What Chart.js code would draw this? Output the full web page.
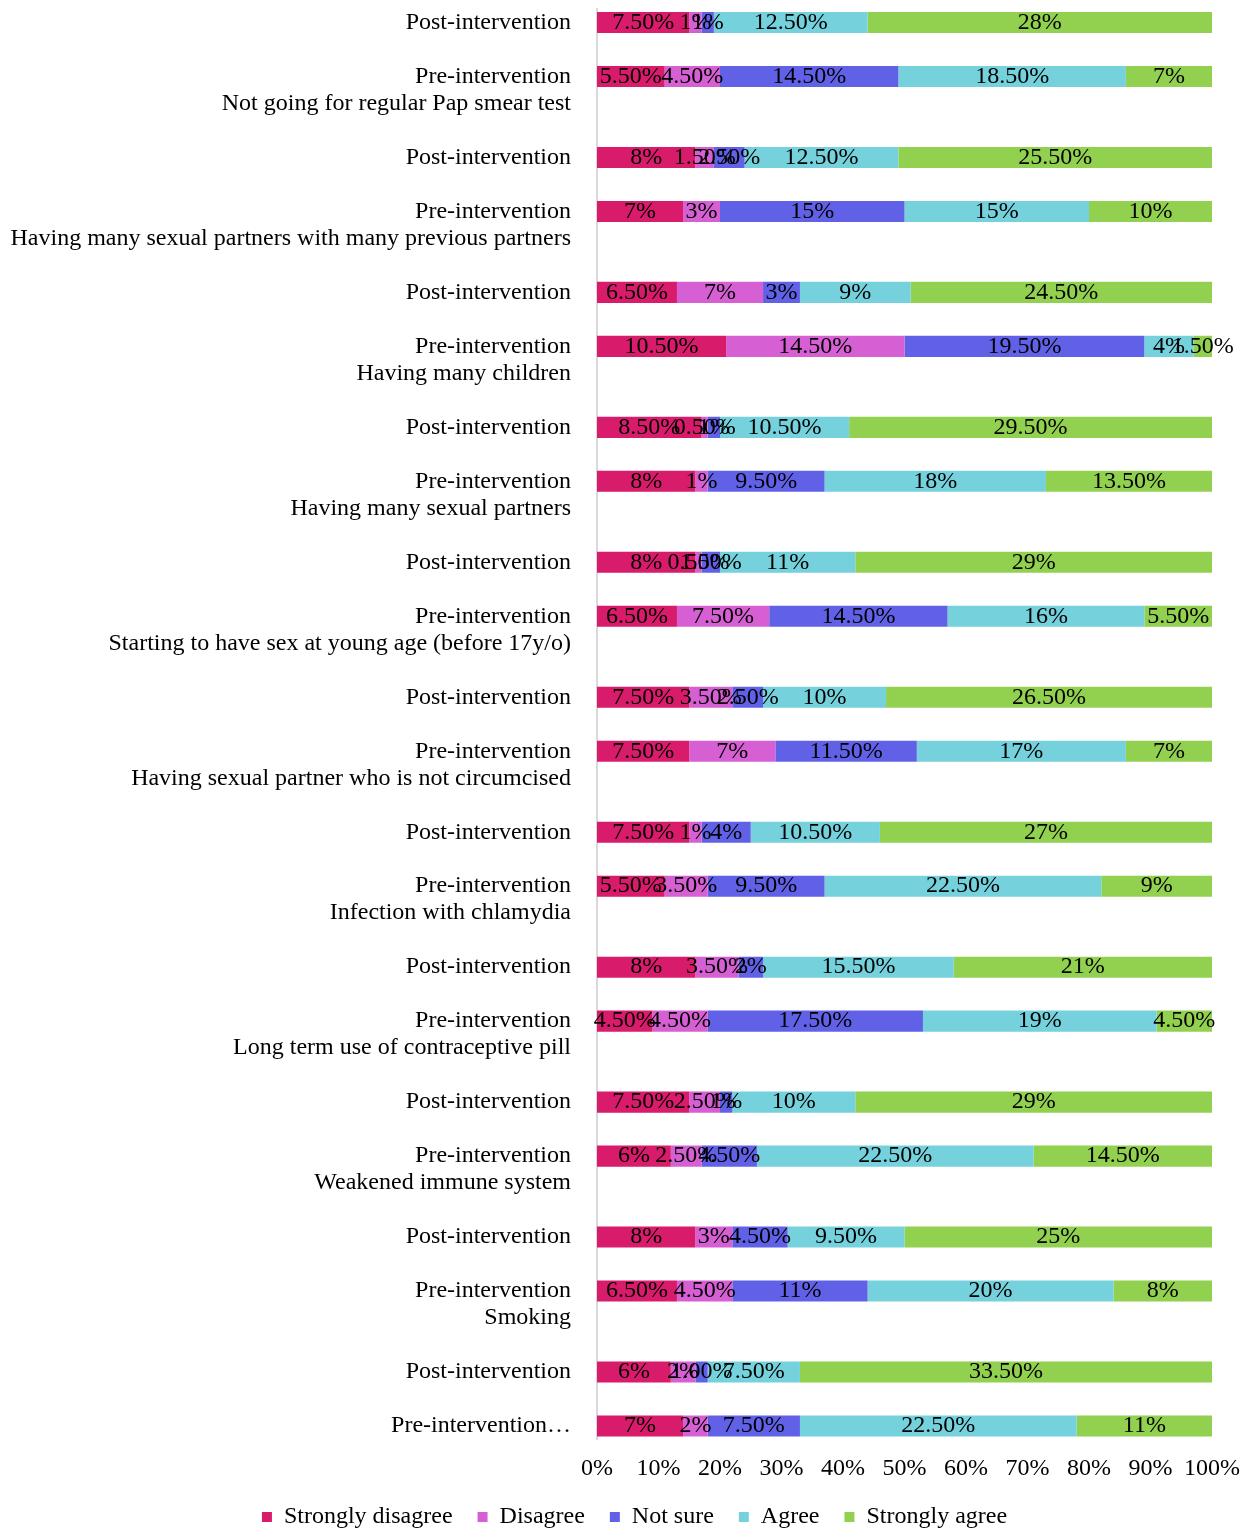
<!DOCTYPE html>
<html>
<head>
<meta charset="utf-8">
<title>Persepsi faktor risiko</title>
<script src="https://cdn.jsdelivr.net/npm/chart.js@4.4.1/dist/chart.umd.min.js"></script>
<style>
	html, body { margin: 0; padding: 0; background: #fff; }
	#wrap { width: 1248px; height: 1531px; }
</style>
</head>
<body>
<div id="wrap"><canvas id="grafik-risiko" width="1248" height="1531"></canvas></div>
<script>
// topics, top to bottom; each has a Post row then a Pre row
const topics = [
	'Not going for regular Pap smear test',
	'Having many sexual partners with many previous partners',
	'Having many children',
	'Having many sexual partners',
	'Starting to have sex at young age (before 17y/o)',
	'Having sexual partner who is not circumcised',
	'Infection with chlamydia',
	'Long term use of contraceptive pill',
	'Weakened immune system',
	'Smoking'
];

// answers per row (Post, Pre, Post, Pre ...), last pair has a cut-off label
const stronglyDisagree = [7.5, 5.5, 8, 7, 6.5, 10.5, 8.5, 8, 8, 6.5, 7.5, 7.5, 7.5, 5.5, 8, 4.5, 7.5, 6, 8, 6.5, 6, 7];
const disagree = [1, 4.5, 1.5, 3, 7, 14.5, 0.5, 1, 0.5, 7.5, 3.5, 7, 1, 3.5, 3.5, 4.5, 2.5, 2.5, 3, 4.5, 2, 2];
const notSure = [1, 14.5, 2.5, 15, 3, 19.5, 1, 9.5, 1.5, 14.5, 2.5, 11.5, 4, 9.5, 2, 17.5, 1, 4.5, 4.5, 11, 1, 7.5];
const agree = [12.5, 18.5, 12.5, 15, 9, 4, 10.5, 18, 11, 16, 10, 17, 10.5, 22.5, 15.5, 19, 10, 22.5, 9.5, 20, 7.5, 22.5];
const stronglyAgree = [28, 7, 25.5, 10, 24.5, 1.5, 29.5, 13.5, 29, 5.5, 26.5, 7, 27, 9, 21, 4.5, 29, 14.5, 25, 8, 33.5, 11];

// [series, row] cells whose label keeps the two decimals
const twoDecimalCells = [[2, 20]];

const seriesNames = ['Strongly disagree', 'Disagree', 'Not sure', 'Agree', 'Strongly agree'];
const seriesColors = ['#D81B6A', '#D660D3', '#6161E8', '#75D1DC', '#92D050'];
const xTicks = [0, 10, 20, 30, 40, 50, 60, 70, 80, 90, 100];

const allSeries = [stronglyDisagree, disagree, notSure, agree, stronglyAgree];

// category slots: bar rows plus text-only rows for the topic names
const slotLabels = [];
const slotRow = [];
topics.forEach((t, i) => {
	slotLabels.push('Post-intervention', '', 'Pre-intervention', t, '');
	slotRow.push(2 * i, null, 2 * i + 1, null, null);
});
slotLabels.push('Post-intervention', '', 'Pre-intervention\u2026');
slotRow.push(20, null, 21);

rowTotal = (r) => allSeries.reduce((s, arr) => s + arr[r], 0);

fmt = (v, s, r) => {
	const keep = twoDecimalCells.some(c => c[0] === s && c[1] === r);
	return (Number.isInteger(v) && !keep ? v : v.toFixed(2)) + '%';
}

// percentage text in the middle of every segment
const valueLabels = {
	id: 'valueLabels',
	afterDatasetsDraw(chart) {
		const ctx = chart.ctx;
		ctx.save();
		ctx.font = '24px "Liberation Serif", "Times New Roman", serif';
		ctx.fillStyle = '#000';
		ctx.textAlign = 'center';
		ctx.textBaseline = 'middle';
		chart.data.datasets.forEach((ds, di) => {
			chart.getDatasetMeta(di).data.forEach((bar, i) => {
				const r = slotRow[i];
				if (r === null) return;
				const p = bar.getProps(['x', 'y', 'base'], true);
				ctx.fillText(fmt(allSeries[di][r], di, r), (p.x + p.base) / 2, p.y);
			});
		});
		ctx.restore();
	}
};

// nudge the legend row a bit to the right
const legendShift = {
	id: 'legendShift',
	afterLayout(chart) {
		chart.legend.left += 28.5;
		chart.legend.right += 28.5;
	}
};

make_chart = () => {
	const ctx = document.getElementById('grafik-risiko');
	Chart.defaults.font.family = '"Liberation Serif", "Times New Roman", serif';
	Chart.defaults.font.size = 24;
	Chart.defaults.color = '#000';

	new Chart(ctx, {
		type: 'bar',
		data: {
			labels: slotLabels,
			datasets: allSeries.map((arr, k) => ({
				label: seriesNames[k],
				data: slotRow.map(r => r === null ? null : arr[r] / rowTotal(r) * 100),
				backgroundColor: seriesColors[k],
				borderWidth: 0,
				categoryPercentage: 1,
				barPercentage: 0.78
			}))
		},
		options: {
			indexAxis: 'y',
			responsive: false,
			animation: false,
			layout: { padding: { left: 0, right: 36, top: 9, bottom: -8 } },
			scales: {
				x: {
					stacked: true,
					min: 0,
					max: 100,
					grid: { display: false, drawTicks: false },
					border: { display: false },
					afterBuildTicks: (scale) => { scale.ticks = xTicks.map(v => ({ value: v })); },
					afterFit: (scale) => { scale.height = 40.5; scale.paddingLeft = 0; scale.paddingRight = 0; },
					ticks: { padding: 15, autoSkip: false, minRotation: 0, maxRotation: 0, callback: (v) => v + '%' }
				},
				y: {
					stacked: true,
					grid: { display: false, drawTicks: false },
					border: { display: true, color: '#d9d9d9', width: 2 },
					afterFit: (scale) => { scale.width = 597; scale.paddingTop = 0; scale.paddingBottom = 0; },
					ticks: { autoSkip: false, padding: 26 }
				}
			},
			plugins: {
				legend: {
					position: 'bottom',
					labels: { boxWidth: 10, boxHeight: 10, padding: 25 }
				},
				tooltip: { enabled: false }
			}
		},
		plugins: [valueLabels, legendShift]
	});
}

make_chart();
</script>
</body>
</html>
